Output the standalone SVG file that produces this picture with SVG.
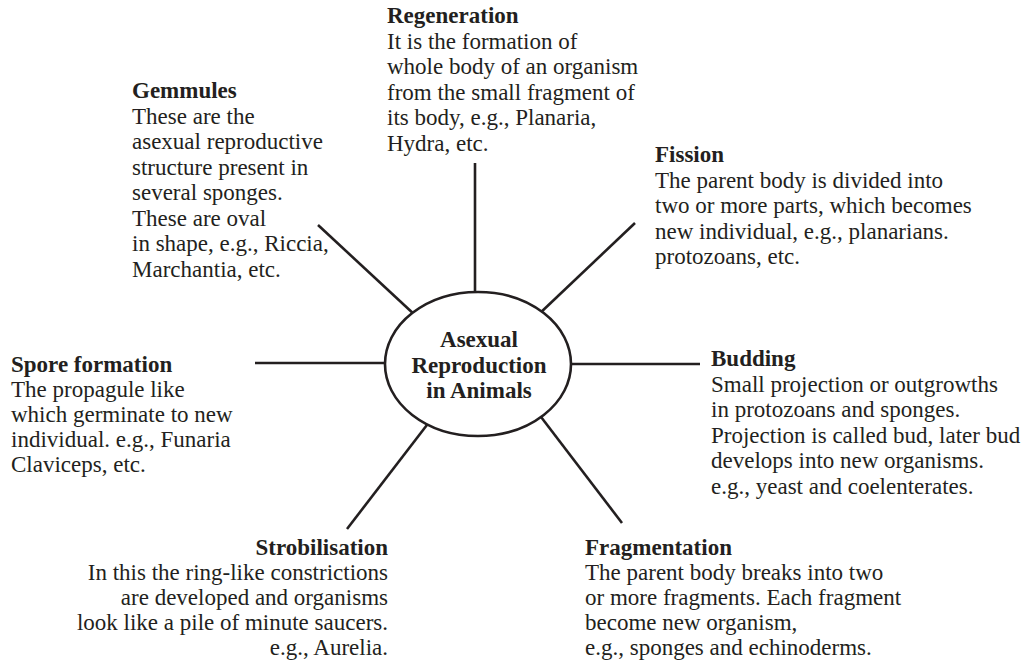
<svg xmlns="http://www.w3.org/2000/svg" width="1021" height="662" viewBox="0 0 1021 662">
<style>
text{font-family:'Liberation Serif','Times New Roman',serif;font-size:23px;fill:#231f20}
.t{font-weight:bold}
.c{stroke:#231f20;stroke-width:2.6;fill:none}
.r{text-anchor:end}
.m{text-anchor:middle;font-weight:bold}
</style>
<rect width="1021" height="662" fill="#fff"/>
<g id="connectors">
<line class="c" x1="475" y1="163" x2="475" y2="300"/>
<line class="c" x1="635" y1="223" x2="538" y2="315"/>
<line class="c" x1="318" y1="225" x2="416" y2="316"/>
<line class="c" x1="255" y1="363" x2="392" y2="363"/>
<line class="c" x1="700" y1="364" x2="565" y2="364"/>
<line class="c" x1="622" y1="523" x2="538" y2="413"/>
<line class="c" x1="347" y1="529" x2="430" y2="421"/>
</g>
<g id="center">
<ellipse cx="478" cy="364" rx="93" ry="72" fill="#fff" stroke="#231f20" stroke-width="2.6"/>
<text class="m" x="479" y="347">Asexual</text>
<text class="m" x="479" y="373">Reproduction</text>
<text class="m" x="479" y="398">in Animals</text>
</g>
<g id="regeneration">
<text class="t" x="387" y="23">Regeneration</text>
<text x="387" y="48.5">It is the formation of</text>
<text x="387" y="74">whole body of an organism</text>
<text x="387" y="99.5">from the small fragment of</text>
<text x="387" y="125">its body, e.g., Planaria,</text>
<text x="387" y="150.5">Hydra, etc.</text>
</g>
<g id="gemmules">
<text class="t" x="132" y="98">Gemmules</text>
<text x="132" y="123.5">These are the</text>
<text x="132" y="149">asexual reproductive</text>
<text x="132" y="174.5">structure present in</text>
<text x="132" y="200">several sponges.</text>
<text x="132" y="225.5">These are oval</text>
<text x="132" y="251">in shape, e.g., Riccia,</text>
<text x="132" y="276.5">Marchantia, etc.</text>
</g>
<g id="fission">
<text class="t" x="655" y="162">Fission</text>
<text x="655" y="187.5">The parent body is divided into</text>
<text x="655" y="213">two or more parts, which becomes</text>
<text x="655" y="238.5">new individual, e.g., planarians.</text>
<text x="655" y="264">protozoans, etc.</text>
</g>
<g id="spore">
<text class="t" x="11" y="372">Spore formation</text>
<text x="11" y="397">The propagule like</text>
<text x="11" y="422">which germinate to new</text>
<text x="11" y="447">individual. e.g., Funaria</text>
<text x="11" y="472">Claviceps, etc.</text>
</g>
<g id="budding">
<text class="t" x="711" y="366">Budding</text>
<text x="711" y="391.5">Small projection or outgrowths</text>
<text x="711" y="417">in protozoans and sponges.</text>
<text x="711" y="442.5">Projection is called bud, later bud</text>
<text x="711" y="468">develops into new organisms.</text>
<text x="711" y="493.5">e.g., yeast and coelenterates.</text>
</g>
<g id="strobilisation">
<text class="t r" x="388" y="555">Strobilisation</text>
<text class="r" x="388" y="580">In this the ring-like constrictions</text>
<text class="r" x="388" y="605">are developed and organisms</text>
<text class="r" x="388" y="630">look like a pile of minute saucers.</text>
<text class="r" x="388" y="655">e.g., Aurelia.</text>
</g>
<g id="fragmentation">
<text class="t" x="585" y="555">Fragmentation</text>
<text x="585" y="580">The parent body breaks into two</text>
<text x="585" y="605">or more fragments. Each fragment</text>
<text x="585" y="630">become new organism,</text>
<text x="585" y="655">e.g., sponges and echinoderms.</text>
</g>
</svg>
